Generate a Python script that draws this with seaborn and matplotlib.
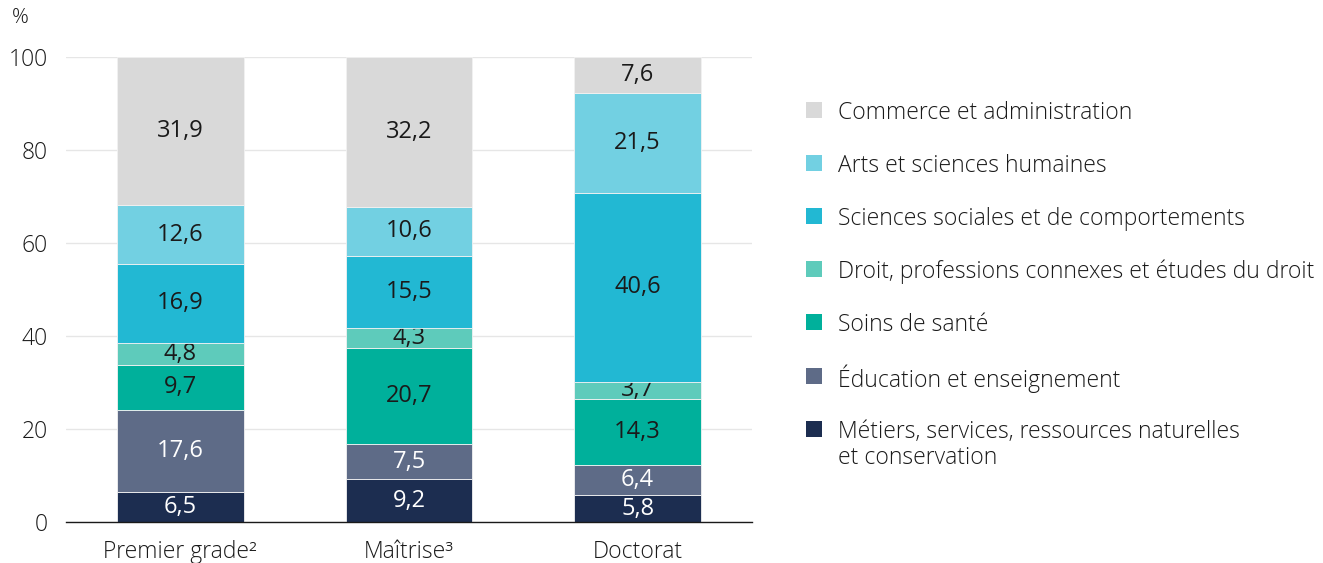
import pandas as pd
import numpy as np
import matplotlib
matplotlib.use("Agg")
import matplotlib.pyplot as plt
import seaborn as sns
from matplotlib.patches import Rectangle
from matplotlib.ticker import FixedLocator

# Data
degrees = ["Premier grade²", "Maîtrise³", "Doctorat"]
fields = [
    "Métiers, services, ressources naturelles\net conservation",
    "Éducation et enseignement",
    "Soins de santé",
    "Droit, professions connexes et études du droit",
    "Sciences sociales et de comportements",
    "Arts et sciences humaines",
    "Commerce et administration",
]
metiers = [6.5, 9.2, 5.8]
education = [17.6, 7.5, 6.4]
sante = [9.7, 20.7, 14.3]
droit = [4.8, 4.3, 3.7]
sciences_sociales = [16.9, 15.5, 40.6]
arts = [12.6, 10.6, 21.5]
commerce = [31.9, 32.2, 7.6]

colors = ["#1c2d50", "#5e6b87", "#00b09b", "#5ecbbb", "#22b8d3", "#72d0e2", "#d9d9d9"]
text_colors = ["white", "white", "#1a1a1a", "#1a1a1a", "#1a1a1a", "#1a1a1a", "#1a1a1a"]

df = pd.DataFrame({"degree": degrees, fields[0]: metiers, fields[1]: education,
                   fields[2]: sante, fields[3]: droit, fields[4]: sciences_sociales,
                   fields[5]: arts, fields[6]: commerce})

sns.set_style("white")
plt.rcParams["font.family"] = ["Open Sans", "DejaVu Sans"]
plt.rcParams["font.weight"] = "light"

fig = plt.figure(figsize=(13.23, 5.63), dpi=100)
ax = fig.add_axes([66/1323, 1 - 522/563, (752 - 66)/1323, (522 - 57)/563])

bottom = np.zeros(len(degrees))
for i, f in enumerate(fields):
    sns.barplot(data=df, x="degree", y=f, bottom=bottom, color=colors[i],
                width=0.555, saturation=1, edgecolor="#f2f2f2", linewidth=0.6,
                ax=ax, zorder=3)
    cont = ax.containers[-1]
    ax.bar_label(cont, labels=[f"{v:.1f}".replace(".", ",") for v in df[f]],
                 label_type="center", color=text_colors[i], fontsize=17,
                 fontweight="normal")
    bottom = bottom + df[f].values

ax.set_xlim(-0.5, 2.5)
ax.set_ylim(0, 100)
ax.set_yticks([0, 20, 40, 60, 80, 100])
ax.tick_params(axis="y", length=0, labelsize=16.5, pad=13, labelcolor="#1a1a1a")
ax.tick_params(axis="x", which="major", length=0, labelsize=16.5, pad=13, labelcolor="#1a1a1a")
ax.xaxis.set_minor_locator(FixedLocator([-0.5, 0.5, 1.5, 2.5]))
ax.tick_params(axis="x", which="minor", length=8, width=1, color="#1a1a1a", direction="out")
ax.set_xlabel("")
ax.set_ylabel("")
ax.grid(axis="y", color="#e6e6e6", linewidth=1, zorder=0)
for s in ["top", "right", "left"]:
    ax.spines[s].set_visible(False)
ax.spines["bottom"].set_color("#1a1a1a")
ax.spines["bottom"].set_linewidth(1)
ax.spines["bottom"].set_zorder(4)

fig.text(12/1323, 1 - 18/563, "%", fontsize=15, va="center", ha="left", color="#1a1a1a")

# legend, drawn row by row (top row first)
row_y = [110, 163, 216, 269, 322, 376, 429]
for k, i in enumerate(range(len(fields) - 1, -1, -1)):
    y = row_y[k]
    fig.patches.append(Rectangle((806/1323, 1 - (y + 8)/563), 16/1323, 16/563,
                                 facecolor=colors[i], edgecolor="none",
                                 transform=fig.transFigure, figure=fig))
    lines = fields[i].split("\n")
    for j, line in enumerate(lines):
        fig.text(838/1323, 1 - (y + 3 + 26*j)/563, line, fontsize=16.5, va="center",
                 ha="left", color="#1a1a1a")

fig.savefig("out.png", dpi=100)
